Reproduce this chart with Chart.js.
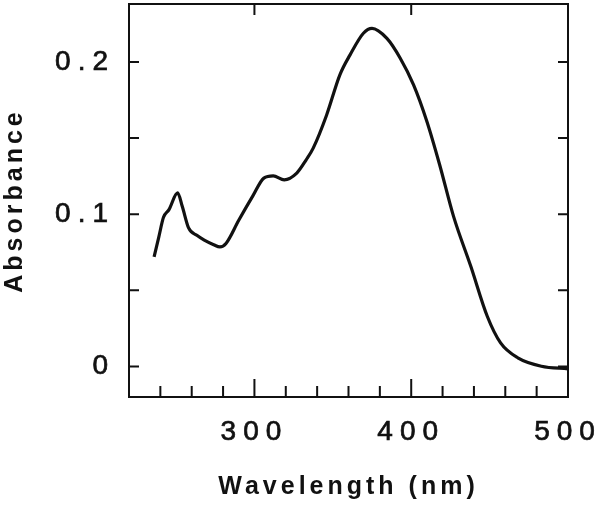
<!DOCTYPE html>
<html>
<head>
<meta charset="utf-8">
<script src="https://cdn.jsdelivr.net/npm/chart.js@4.4.1/dist/chart.umd.min.js"></script>
<style>
  body { margin: 0; background: #fff; }
  canvas { display: block; }
</style>
</head>
<body>
<canvas id="myChart" width="600" height="508"></canvas>
<script>
// absorption spectrum
const wavelength = [236, 239, 242, 245.5, 251, 254, 258, 263.5, 268, 274, 278, 282, 290, 299, 306, 312, 319, 327, 333, 337.5, 346, 354.5, 361, 369.5, 375, 384.5, 393, 401.5, 410, 418, 427, 438, 448.5, 457, 468, 483, 500];
const absorbance = [0.072, 0.085, 0.098, 0.103, 0.114, 0.105, 0.091, 0.086, 0.083, 0.080, 0.0785, 0.081, 0.096, 0.112, 0.1237, 0.1252, 0.1226, 0.127, 0.1357, 0.1434, 0.165, 0.1915, 0.2046, 0.2188, 0.222, 0.2154, 0.2024, 0.1849, 0.1609, 0.133, 0.0986, 0.0658, 0.033, 0.0155, 0.0057, 0.0002, -0.0015];

const xTickLabels = [300, 400, 500];
const yTickLabels = [0, 0.1, 0.2];
const xTicks = [240, 260, 280, 300, 320, 340, 360, 380, 400, 420, 440, 460, 480];
const xTopTicks = [300, 400];
const yTicks = [0, 0.05, 0.1, 0.15, 0.2];

const ink = "#111";
const family = "'Liberation Sans', Arial, sans-serif";

// wide tracking like the printed figure: titles (bold) a bit tighter than numbers
function spacingFor(font) {
  return font.indexOf("bold") >= 0 ? "4px" : "7px";
}
const spacingPlugin = {
  id: "spacing",
  beforeInit(chart) {
    const c = chart.ctx;
    const fill = c.fillText;
    const stroke = c.strokeText;
    c.fillText = function (t, x, y, w) {
      this.letterSpacing = spacingFor(this.font);
      return w === undefined ? fill.call(this, t, x, y) : fill.call(this, t, x, y, w);
    };
    c.strokeText = function (t, x, y, w) {
      this.letterSpacing = spacingFor(this.font);
      return w === undefined ? stroke.call(this, t, x, y) : stroke.call(this, t, x, y, w);
    };
  }
};

// frame and inward tick marks
const framePlugin = {
  id: "frame",
  afterDraw(chart) {
    const { ctx, chartArea: a, scales } = chart;
    ctx.save();
    ctx.strokeStyle = ink;
    ctx.lineWidth = 2;
    ctx.strokeRect(a.left, a.top, a.right - a.left, a.bottom - a.top);
    ctx.beginPath();
    xTicks.forEach(v => {
      const px = scales.x.getPixelForValue(v);
      const len = xTopTicks.includes(v) ? 18 : 11;
      ctx.moveTo(px, a.bottom);
      ctx.lineTo(px, a.bottom - len);
    });
    xTopTicks.forEach(v => {
      const px = scales.x.getPixelForValue(v);
      ctx.moveTo(px, a.top);
      ctx.lineTo(px, a.top + 11);
    });
    yTicks.forEach(v => {
      const py = scales.y.getPixelForValue(v);
      ctx.moveTo(a.left, py);
      ctx.lineTo(a.left + 10, py);
      ctx.moveTo(a.right, py);
      ctx.lineTo(a.right - 10, py);
    });
    ctx.stroke();
    ctx.restore();
  }
};

function noPadding(scale) {
  scale.paddingLeft = 0;
  scale.paddingRight = 0;
  scale.paddingTop = 0;
  scale.paddingBottom = 0;
}

const ctx = document.getElementById("myChart");

new Chart(ctx, {
  type: "line",
  data: {
    datasets: [
      {
        label: "Absorbance",
        data: wavelength.map((w, i) => ({ x: w, y: absorbance[i] })),
        borderColor: ink,
        borderWidth: 3.2,
        pointRadius: 0,
        cubicInterpolationMode: "monotone",
        fill: false,
      },
    ],
  },
  options: {
    responsive: false,
    animation: false,
    layout: { padding: { top: 4, right: 32, bottom: 0, left: 0 } },
    plugins: { legend: { display: false }, tooltip: { enabled: false } },
    scales: {
      x: {
        type: "linear",
        min: 220,
        max: 500,
        border: { display: false },
        grid: { display: false, drawTicks: false },
        afterBuildTicks: (scale) => { scale.ticks = xTickLabels.map((v) => ({ value: v })); },
        afterFit: (scale) => { scale.height = 111; noPadding(scale); },
        ticks: {
          autoSkip: false,
          maxRotation: 0,
          padding: 18,
          color: ink,
          textStrokeColor: ink,
          textStrokeWidth: 0.7,
          font: { family: family, size: 28 },
          callback: (v) => String(v),
        },
        title: {
          display: true,
          text: "Wavelength (nm)",
          color: ink,
          font: { family: family, size: 25, weight: "bold" },
          padding: { top: 0, bottom: 6 },
        },
      },
      y: {
        min: -0.02,
        max: 0.238,
        border: { display: false },
        grid: { display: false, drawTicks: false },
        afterBuildTicks: (scale) => { scale.ticks = yTickLabels.map((v) => ({ value: v })); },
        afterFit: (scale) => { scale.width = 129; noPadding(scale); },
        ticks: {
          padding: 14,
          color: ink,
          textStrokeColor: ink,
          textStrokeWidth: 0.7,
          font: { family: family, size: 28 },
          callback: (v) => String(v),
        },
        title: {
          display: true,
          text: "Absorbance",
          color: ink,
          font: { family: family, size: 25, weight: "bold" },
          padding: { top: 0, bottom: 0 },
        },
      },
    },
  },
  plugins: [spacingPlugin, framePlugin],
});
</script>
</body>
</html>
